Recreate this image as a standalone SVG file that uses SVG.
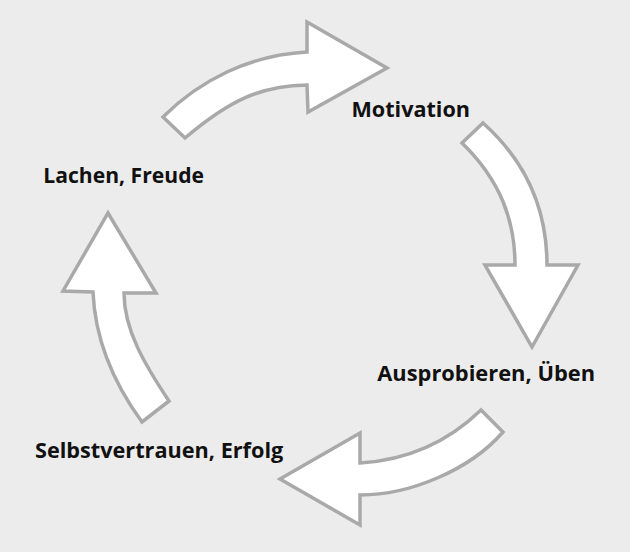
<svg xmlns="http://www.w3.org/2000/svg" width="630" height="552" viewBox="0 0 630 552">
<style>
.bg{fill:#ececec}
.arrow{fill:#ffffff;stroke:#a9a9a9;stroke-width:3.5;stroke-linejoin:miter}
.lbl{font-family:"Open Sans","Liberation Sans",sans-serif;font-weight:bold;font-size:22px;fill:#111111}
</style>
<rect class="bg" x="0" y="0" width="630" height="552"/>
<g id="connectors">
<path class="arrow" d="M 163,117 C 200,80 250,55 307,52 L 307,22 L 387,68 L 308,112 L 307,85 C 260,86 230,100 185,138 Z"/>
<path class="arrow" d="M 483,123 C 530,165 547,215 547,265 L 578,265 L 532,347 L 485,265 L 515,265 C 515,220 500,180 462,143 Z"/>
<path class="arrow" d="M 503,432 C 470,470 410,495 360,495 L 360,525 L 280,479 L 360,433 L 360,463 C 410,460 450,440 481,410 Z"/>
<path class="arrow" d="M 93,292 L 63,291 L 108,213 L 156,293 L 124,293 C 124,330 145,365 169,401 L 142,422 C 115,385 95,340 93,292 Z"/>
</g>
<g id="node-motivation"><text class="lbl" x="351.5" y="117.3" textLength="118.5" lengthAdjust="spacingAndGlyphs">Motivation</text></g>
<g id="node-ausprobieren"><text class="lbl" x="377.3" y="381" textLength="217.7" lengthAdjust="spacingAndGlyphs">Ausprobieren, Üben</text></g>
<g id="node-selbstvertrauen"><text class="lbl" x="35" y="458.3" textLength="248.3" lengthAdjust="spacingAndGlyphs">Selbstvertrauen, Erfolg</text></g>
<g id="node-lachen"><text class="lbl" x="43.3" y="182.7" textLength="160.7" lengthAdjust="spacingAndGlyphs">Lachen, Freude</text></g>
</svg>
